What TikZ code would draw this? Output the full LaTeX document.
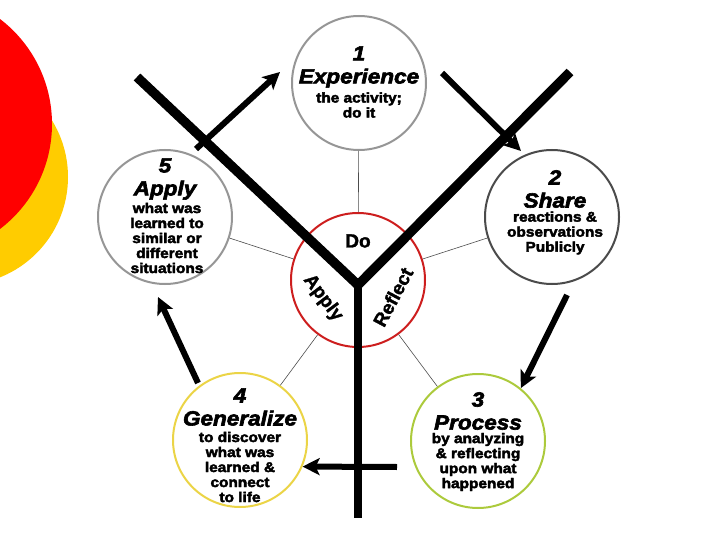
\documentclass[tikz,border=0pt]{standalone}
\usepackage{fontspec}
\setmainfont{Liberation Sans}
\newfontfamily\blackfont{Liberation Sans}[FakeBold=3,FakeStretch=1.1]
\newfontfamily\heavyfont{Liberation Sans}[FakeBold=1.5]
\usetikzlibrary{arrows.meta}

\definecolor{ringgray}{RGB}{150,150,150}
\definecolor{ringdark}{RGB}{75,75,75}
\definecolor{ringred}{RGB}{205,30,30}
\definecolor{ringyellow}{RGB}{235,212,70}
\definecolor{ringgreen}{RGB}{172,202,60}
\definecolor{decored}{RGB}{255,0,0}
\definecolor{decoyellow}{RGB}{255,204,0}

\tikzset{
	stage/.style={draw,circle,line width=2pt,minimum size=134pt,inner sep=0pt},
	stagehead/.style={align=center,inner sep=0pt,font=\blackfont\bfseries\itshape\fontsize{20.5}{23}\selectfont},
	stagetxt/.style={align=center,inner sep=0pt,font=\blackfont\bfseries\fontsize{14}{15}\selectfont},
	dolbl/.style={inner sep=0pt,font=\heavyfont\bfseries\fontsize{19}{20}\selectfont},
	spoke/.style={draw=black!70,line width=0.6pt},
	ybar/.style={line width=9.5pt,line join=miter},
	flow/.style={line width=6pt,-{Stealth[length=17pt,width=17pt,inset=4pt]}},
}

\begin{document}
\begin{tikzpicture}[x=1pt,y=-1pt]
				\useasboundingbox (0,0) rectangle (720,540);
				\fill[decoyellow] (-40,177) circle (108pt);
				\fill[decored] (-80,124) circle (132pt);

				\node[stage,draw=ringgray] (exp) at (359,83) {};
				\node[stage,draw=ringdark] (share) at (552,217) {};
				\node[stage,draw=ringgreen] (proc) at (478,441) {};
				\node[stage,draw=ringyellow] (gen) at (240,440) {};
				\node[stage,draw=ringgray] (apply) at (165,217) {};
				\node[stage,draw=ringred] (do) at (358,280) {};

				\node[stagehead] (exp-h) at (359,67) {1\\Experience};
				\node[stagetxt] (exp-t) at (359,105) {the activity;\\do it};
				\node[stagehead] (share-h) at (555,189) {2\\Share};
				\node[stagetxt] (share-t) at (555,233) {reactions \&\\observations\\Publicly};
				\node[stagehead] (proc-h) at (478,411) {3\\Process};
				\node[stagetxt] (proc-t) at (478,462) {by analyzing\\\& reflecting\\upon what\\happened};
				\node[stagehead] (gen-h) at (240,407) {4\\Generalize};
				\node[stagetxt] (gen-t) at (240,467) {to discover\\what was\\learned \&\\connect\\to life};
				\node[stagehead] (apply-h) at (165,179) {5\\Apply};
				\node[stagetxt] (apply-t) at (167,238) {what was\\learned to\\similar or\\different\\situations};

				\node[dolbl] (do-t) at (358,241) {Do};
				\node[dolbl,rotate=-53] (do-apply) at (323,298) {Apply};
				\node[dolbl,rotate=62] (do-reflect) at (393,297) {Reflect};

				\draw[spoke] (exp) -- (do);
				\draw[spoke] (share) -- (do);
				\draw[spoke] (proc) -- (do);
				\draw[spoke] (gen) -- (do);
				\draw[spoke] (apply) -- (do);

				\coordinate (ytl) at (137,77);
				\coordinate (ytr) at (570,72);
				\coordinate (yj) at (358,285);
				\coordinate (yb) at (358,518);
				\draw[ybar] (ytl) -- (yj) -- (ytr);
				\draw[ybar,line width=8pt] (yj) -- (yb);

				\coordinate (a1s) at (196,149);
				\coordinate (a1e) at (280,72);
				\coordinate (a2s) at (442,73);
				\coordinate (a2e) at (521,151);
				\coordinate (a3s) at (567,295);
				\coordinate (a4s) at (397,467);
				\coordinate (a5s) at (198,383);
				\coordinate (a5e) at (158,297);
				\draw[flow] (a1s) -- (a1e);
				\draw[flow] (a2s) -- (a2e);
				\draw[flow] (a3s) -- (proc.51);
				\draw[flow] (a4s) -- (gen.-23);
				\draw[flow] (a5s) -- (a5e);
			\end{tikzpicture}
\end{document}
